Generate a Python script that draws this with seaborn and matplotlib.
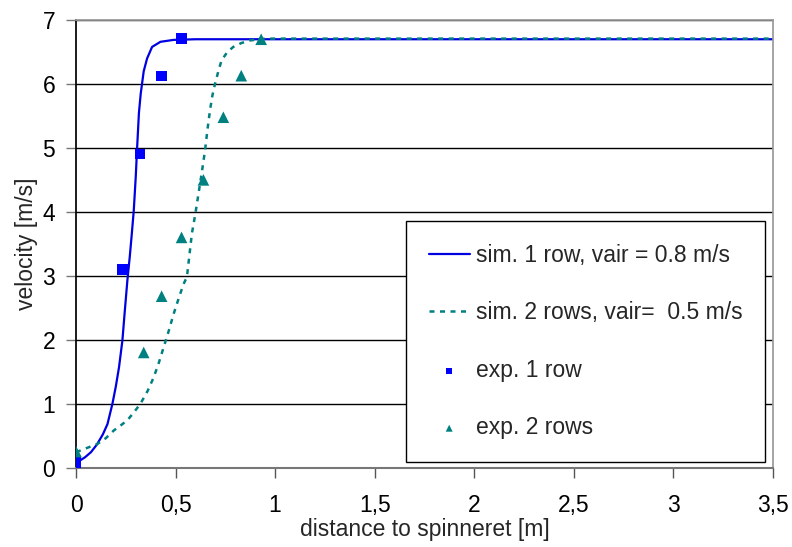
import matplotlib
matplotlib.use("Agg")
import matplotlib.pyplot as plt
import matplotlib.ticker as mticker
import seaborn as sns

# simulation curves
sim1_x = [0.0, 0.02, 0.045, 0.075, 0.105, 0.135, 0.158, 0.183, 0.2, 0.216,
          0.233, 0.245, 0.258, 0.27, 0.28, 0.29, 0.3, 0.307, 0.316, 0.325,
          0.34, 0.357, 0.382, 0.424, 0.49, 0.6, 1.0, 2.0, 3.5]
sim1_y = [0.08, 0.11, 0.16, 0.24, 0.36, 0.52, 0.68, 1.0, 1.27, 1.57,
          1.99, 2.45, 2.93, 3.3, 3.65, 4.02, 4.55, 5.01, 5.55, 5.85,
          6.2, 6.4, 6.58, 6.66, 6.69, 6.7, 6.7, 6.7, 6.7]

sim2_x = [0.0, 0.05, 0.108, 0.15, 0.19, 0.225, 0.258, 0.29, 0.324, 0.36,
          0.39, 0.415, 0.44, 0.465, 0.49, 0.515, 0.54, 0.557, 0.582, 0.6,
          0.615, 0.632, 0.648, 0.66, 0.673, 0.685, 0.698, 0.715, 0.731,
          0.76, 0.79, 0.83, 0.872, 0.92, 0.955, 1.2, 2.0, 3.5]
sim2_y = [0.24, 0.3, 0.37, 0.46, 0.58, 0.66, 0.74, 0.86, 1.0, 1.2,
          1.41, 1.63, 1.88, 2.13, 2.4, 2.64, 2.87, 2.98, 3.66, 3.98,
          4.28, 4.62, 4.96, 5.28, 5.59, 5.82, 6.0, 6.2, 6.37,
          6.5, 6.58, 6.64, 6.68, 6.7, 6.71, 6.71, 6.71, 6.71]

# experiments
exp1_x = [0.0, 0.234, 0.32, 0.43, 0.53]
exp1_y = [0.08, 3.1, 4.91, 6.12, 6.71]

exp2_x = [0.0, 0.34, 0.43, 0.53, 0.64, 0.74, 0.83, 0.93]
exp2_y = [0.25, 1.8, 2.68, 3.6, 4.5, 5.48, 6.13, 6.7]

labels = ["sim. 1 row, vair = 0.8 m/s", "sim. 2 rows, vair=  0.5 m/s",
          "exp. 1 row", "exp. 2 rows"]

blue = "#0000E0"
teal = "#008080"
fs = 16.5

sns.set_theme(style="white")
plt.rcParams["font.family"] = ["Liberation Sans", "DejaVu Sans"]

fig = plt.figure(figsize=(7.92, 5.47), dpi=100)
ax = fig.add_axes([0.096, 0.1453, 0.8797, 0.818])

sns.lineplot(x=sim1_x, y=sim1_y, ax=ax, color=blue, lw=1.6, label=labels[0],
             sort=False)
sns.lineplot(x=sim2_x, y=sim2_y, ax=ax, color=teal, lw=1.8, label=labels[1],
             sort=False, linestyle=(0, (2, 2.2)))
sns.scatterplot(x=exp1_x, y=exp1_y, ax=ax, color="#0000FF", marker="s", s=55,
                edgecolor="none", label=labels[2], zorder=5)
sns.scatterplot(x=exp2_x, y=exp2_y, ax=ax, color=teal, marker="^", s=70,
                edgecolor="none", label=labels[3], zorder=5)

ax.set_xlim(0, 3.5)
ax.set_ylim(0, 7)
ax.set_xticks([0, 0.5, 1, 1.5, 2, 2.5, 3, 3.5])
ax.set_yticks(range(8))
ax.xaxis.set_major_formatter(
    mticker.FuncFormatter(lambda v, p: f"{v:g}".replace(".", ",")))
ax.tick_params(axis="both", labelsize=fs, colors="black", direction="out",
               length=7, width=1)
ax.tick_params(axis="x", pad=12, color="#555555")
ax.tick_params(axis="y", pad=8, color="#777777")
ax.xaxis.set_ticks_position("bottom")
ax.yaxis.set_ticks_position("left")

ax.grid(axis="y", color="black", lw=1)
ax.grid(axis="x", visible=False)
ax.set_axisbelow(True)
ax.spines["top"].set_color("#999999")
ax.spines["right"].set_color("#999999")
ax.spines["left"].set_color("black")
ax.spines["bottom"].set_color("#777777")
ax.spines["bottom"].set_linewidth(1.5)

ax.set_xlabel("distance to spinneret [m]", fontsize=fs, labelpad=1)
ax.set_ylabel("velocity [m/s]", fontsize=fs, labelpad=3)

leg = ax.legend(loc="lower right", bbox_to_anchor=(0.989, 0.012),
                fontsize=fs, frameon=True, fancybox=False, framealpha=1,
                edgecolor="black", labelspacing=1.5, handlelength=1.8,
                borderpad=1.0, handletextpad=0.25, markerscale=0.6,
                borderaxespad=0)
leg.get_frame().set_linewidth(1)

fig.savefig("out.png", dpi=100)
